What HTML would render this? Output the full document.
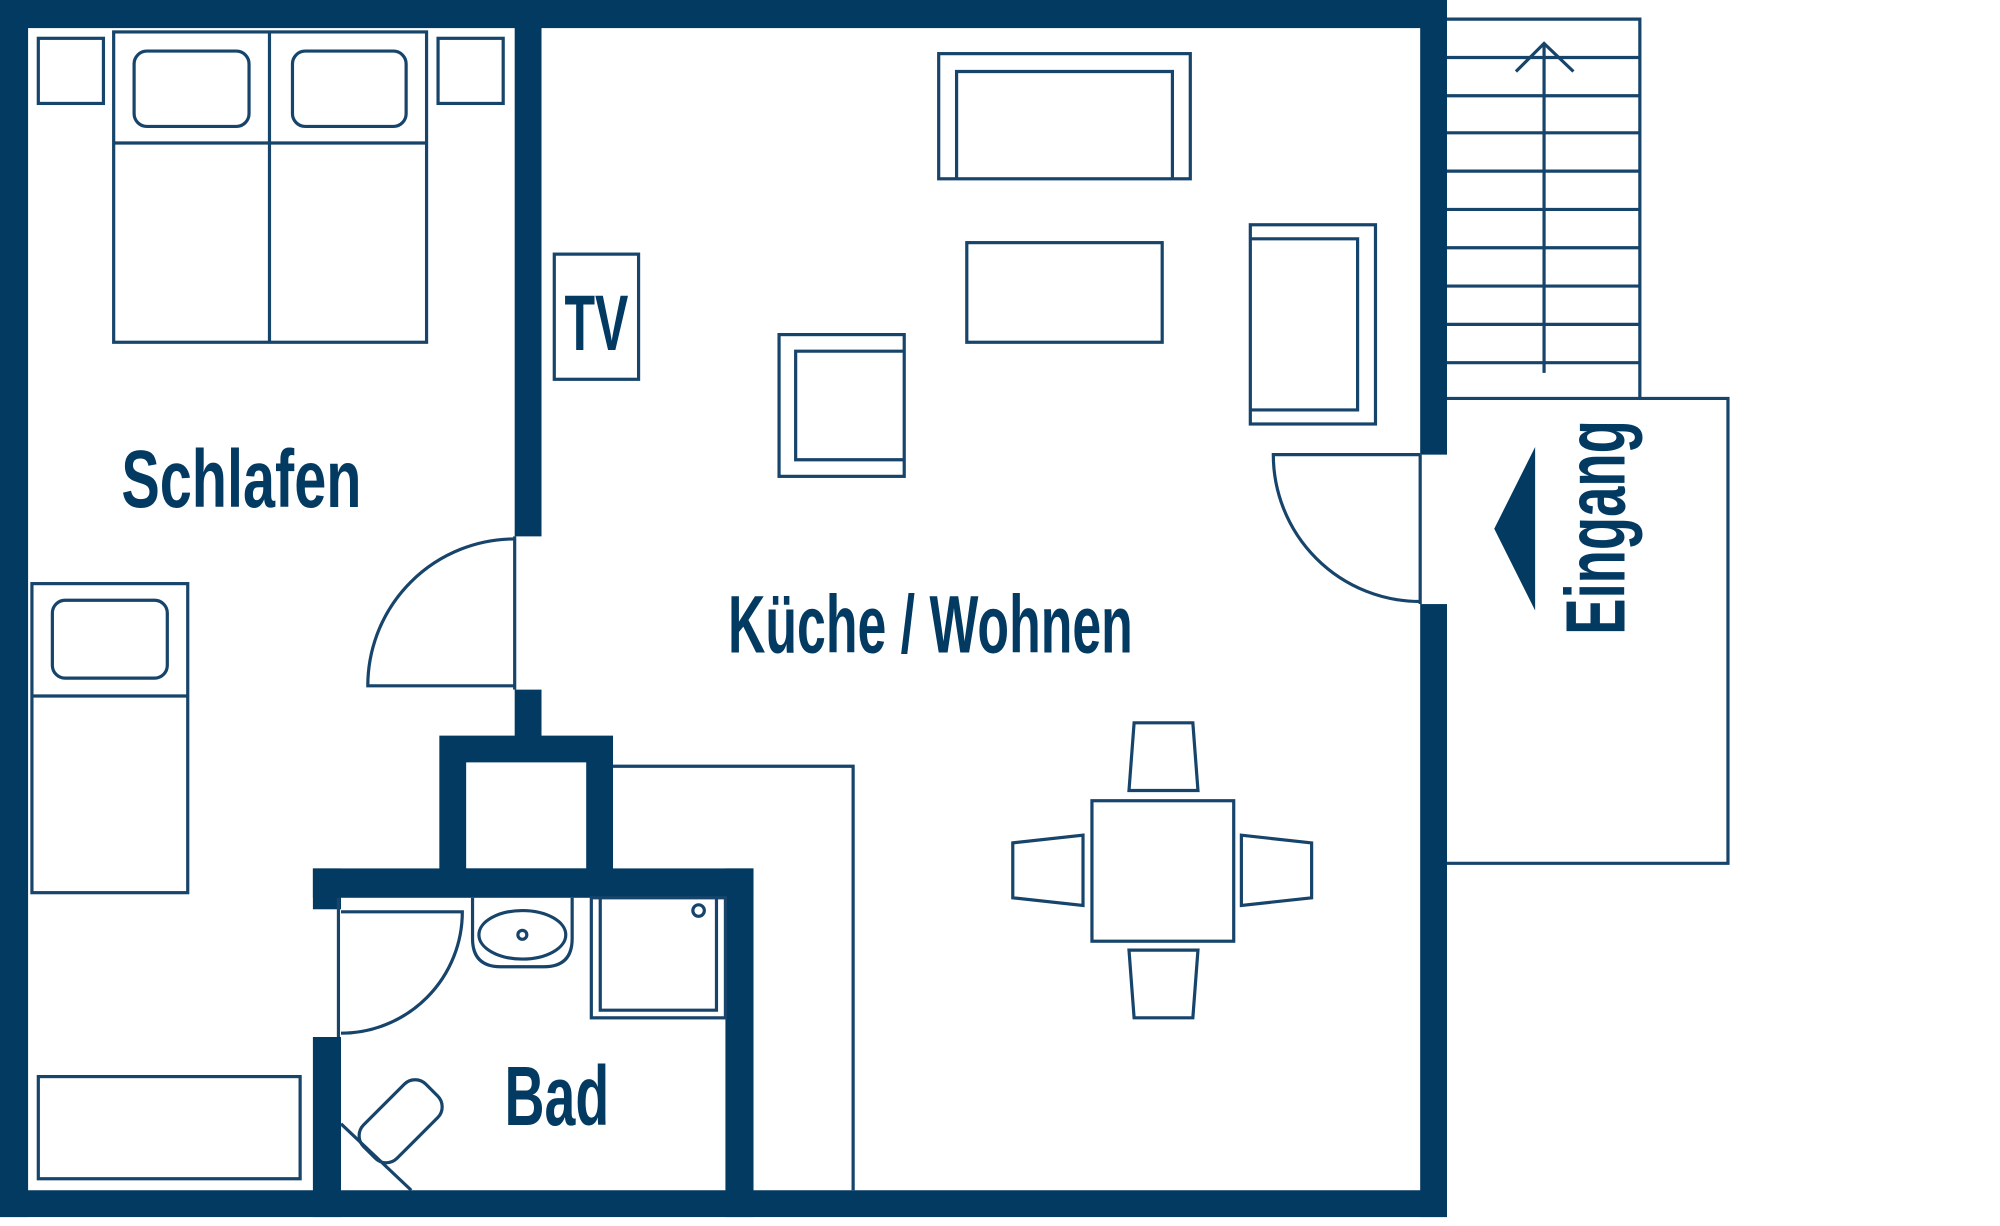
<!DOCTYPE html>
<html><head><meta charset="utf-8"><style>
html,body{margin:0;padding:0;background:#fff;}
svg{display:block;}
text{font-family:"Liberation Sans Narrow","Liberation Sans",sans-serif;font-weight:bold;fill:#033a62;}
</style></head><body>
<svg width="2000" height="1226" viewBox="0 0 1566 960" preserveAspectRatio="none" xmlns="http://www.w3.org/2000/svg">
<rect width="1566" height="960" fill="#fff"/>
<g fill="#033a62">
<rect x="0" y="0" width="1133" height="22"/>
<rect x="0" y="0" width="22" height="953"/>
<rect x="0" y="932" width="1133" height="21"/>
<rect x="1112" y="0" width="21" height="356"/>
<rect x="1112" y="473" width="21" height="480"/>
<rect x="403" y="0" width="21" height="420"/>
<rect x="403" y="540" width="21" height="38"/>
<path d="M344 576H480V690H344Z M365 597V680H459V597Z" fill-rule="evenodd"/>
<rect x="245" y="680" width="345" height="23"/>
<rect x="568" y="680" width="22" height="273"/>
<rect x="245" y="680" width="22" height="32"/>
<rect x="245" y="812" width="22" height="141"/>
<polygon points="1202,350 1170,414 1202,478"/>
</g>
<g fill="none" stroke="#17446a" stroke-width="2.5">
<line x1="403" y1="420" x2="403" y2="540"/>
<path d="M403 537H288A115 115 0 0 1 403 422"/>
<line x1="1112" y1="356" x2="1112" y2="473"/>
<path d="M1112 356H997A115 115 0 0 0 1112 471"/>
<line x1="265" y1="703" x2="265" y2="812"/>
<path d="M267 714H362A95 95 0 0 1 267 809"/>
<path d="M480 600H668V932"/>
<rect x="30" y="30" width="51" height="51"/>
<rect x="343" y="30" width="51" height="51"/>
<rect x="89" y="25" width="245" height="243"/>
<line x1="211" y1="25" x2="211" y2="268"/>
<line x1="89" y1="112" x2="334" y2="112"/>
<rect x="105" y="40" width="90" height="59" rx="10"/>
<rect x="229" y="40" width="89" height="59" rx="10"/>
<rect x="25" y="457" width="122" height="242"/>
<line x1="25" y1="545" x2="147" y2="545"/>
<rect x="41" y="470" width="90" height="61" rx="10"/>
<rect x="30" y="843" width="205" height="80"/>
<rect x="434" y="199" width="66" height="98"/>
<rect x="735" y="42" width="197" height="98"/>
<path d="M749 140V56H918V140"/>
<rect x="757" y="190" width="153" height="78"/>
<rect x="610" y="262" width="98" height="111"/>
<path d="M708 275H623V360H708"/>
<rect x="979" y="176" width="98" height="156"/>
<path d="M979 187H1063V321H979"/>
<rect x="855" y="627" width="111" height="110"/>
<polygon points="888,566 934,566 938,619 884,619"/>
<polygon points="884,744 938,744 934,797 888,797"/>
<polygon points="793,660 848,654 848,709 793,703"/>
<polygon points="972,654 1027,660 1027,703 972,709"/>
<path d="M370 703V735Q370 757 392 757H426Q448 757 448 735V703"/>
<ellipse cx="409" cy="732" rx="34" ry="19"/>
<circle cx="409" cy="732" r="3.5"/>
<rect x="463" y="703" width="105" height="94"/>
<path d="M470 703V791H561V703"/>
<circle cx="547" cy="713" r="4.5"/>
<g transform="translate(313,878) rotate(-45)">
<rect x="-34" y="-18" width="69" height="37" rx="12"/>
</g>
<line x1="267" y1="880" x2="322" y2="932"/>
<path d="M1133 15H1284V312"/>
<line x1="1133" y1="45" x2="1284" y2="45"/>
<line x1="1133" y1="75" x2="1284" y2="75"/>
<line x1="1133" y1="104" x2="1284" y2="104"/>
<line x1="1133" y1="134" x2="1284" y2="134"/>
<line x1="1133" y1="164" x2="1284" y2="164"/>
<line x1="1133" y1="194" x2="1284" y2="194"/>
<line x1="1133" y1="224" x2="1284" y2="224"/>
<line x1="1133" y1="254" x2="1284" y2="254"/>
<line x1="1133" y1="284" x2="1284" y2="284"/>
<line x1="1209" y1="34" x2="1209" y2="292"/>
<path d="M1187 56L1209 34L1232 56"/>
<path d="M1133 312H1353V676H1133"/>
</g>
<text x="467" y="274" font-size="62" text-anchor="middle" textLength="50" lengthAdjust="spacingAndGlyphs">TV</text>
<text x="95" y="397" font-size="64" textLength="188" lengthAdjust="spacingAndGlyphs">Schlafen</text>
<text x="570" y="511" font-size="64" textLength="317" lengthAdjust="spacingAndGlyphs">Küche / Wohnen</text>
<text x="395" y="881" font-size="66" textLength="82" lengthAdjust="spacingAndGlyphs">Bad</text>
<text transform="translate(1272,497) rotate(-90)" font-size="66" textLength="168" lengthAdjust="spacingAndGlyphs">Eingang</text>
</svg>
</body></html>
